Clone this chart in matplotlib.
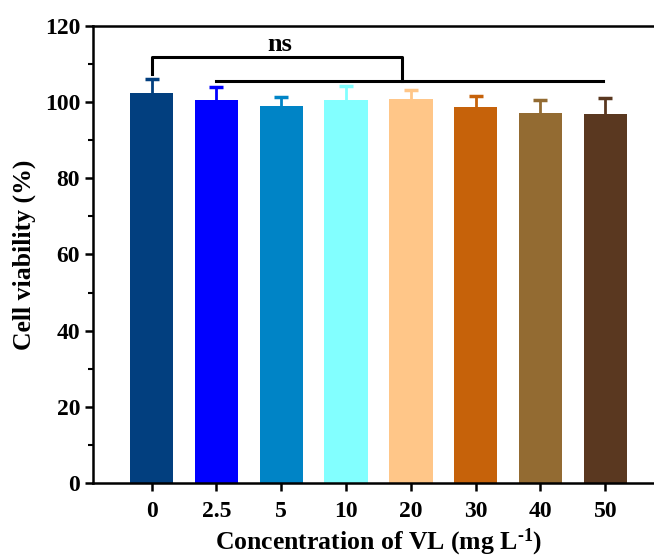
import numpy as np
import matplotlib
matplotlib.use('Agg')
import matplotlib.pyplot as plt
from matplotlib.ticker import MultipleLocator

# data
conc = ['0', '2.5', '5', '10', '20', '30', '40', '50']
viability = [102.5, 100.6, 98.9, 100.6, 100.8, 98.8, 97.2, 96.9]
err = [3.6, 3.3, 2.4, 3.6, 2.3, 2.8, 3.4, 4.3]
colors = ['#023F7F', '#0000FF', '#0084C6', '#82FFFF',
          '#FFC688', '#C6620A', '#936B32', '#5A3820']

plt.rcParams['font.family'] = 'Liberation Serif'
plt.rcParams['font.weight'] = 'bold'
plt.rcParams['mathtext.fontset'] = 'custom'
plt.rcParams['mathtext.rm'] = 'Liberation Serif:bold'
plt.rcParams['mathtext.bf'] = 'Liberation Serif:bold'
plt.rcParams['mathtext.it'] = 'Liberation Serif:bold'

fig = plt.figure(figsize=(6.54, 5.57), dpi=100)
# axes run slightly past the right edge (cropped like the original)
ax = fig.add_axes([0.1427, 0.1329, 0.872, 0.8205])

x = np.arange(len(conc))
ax.bar(x, viability, width=0.67, color=colors, zorder=2)
for i in range(len(x)):
    # upper error bar only
    ax.vlines(x[i], viability[i], viability[i] + err[i], color=colors[i], lw=2, zorder=1)
    ax.plot(x[i], viability[i] + err[i], marker='_', ms=10, mew=2.5, color=colors[i], zorder=1)

# significance brackets
ax.plot([0, 0, 3.87, 3.87], [107.5, 111.9, 111.9, 105.5], color='k', lw=2.2, zorder=3)
ax.plot([1, 6.97], [105.5, 105.5], color='k', lw=2.2, zorder=3)
ax.text(1.98, 112.0, 'ns', ha='center', va='bottom', fontsize=19, fontweight='bold')

ax.set_xlim(-0.9, 7.9)
ax.set_ylim(0, 120)
ax.set_xticks(x)
ax.set_xticklabels(conc)
ax.yaxis.set_major_locator(MultipleLocator(20))
ax.yaxis.set_minor_locator(MultipleLocator(10))

for s in ax.spines.values():
    s.set_linewidth(1.8)
ax.tick_params(axis='both', which='major', direction='out', length=6, width=1.8,
               labelsize=17)
ax.tick_params(axis='x', which='major', pad=7)
ax.tick_params(axis='y', which='minor', direction='out', length=3.5, width=1.5)

ax.set_ylabel('Cell viability (%)', fontsize=18.5, fontweight='bold', labelpad=6)
ax.set_xlabel('Concentration of VL (mg L$^{\u2010 1}$)', fontsize=18.5,
              fontweight='bold', labelpad=3)

plt.savefig('out.png', dpi=100)
